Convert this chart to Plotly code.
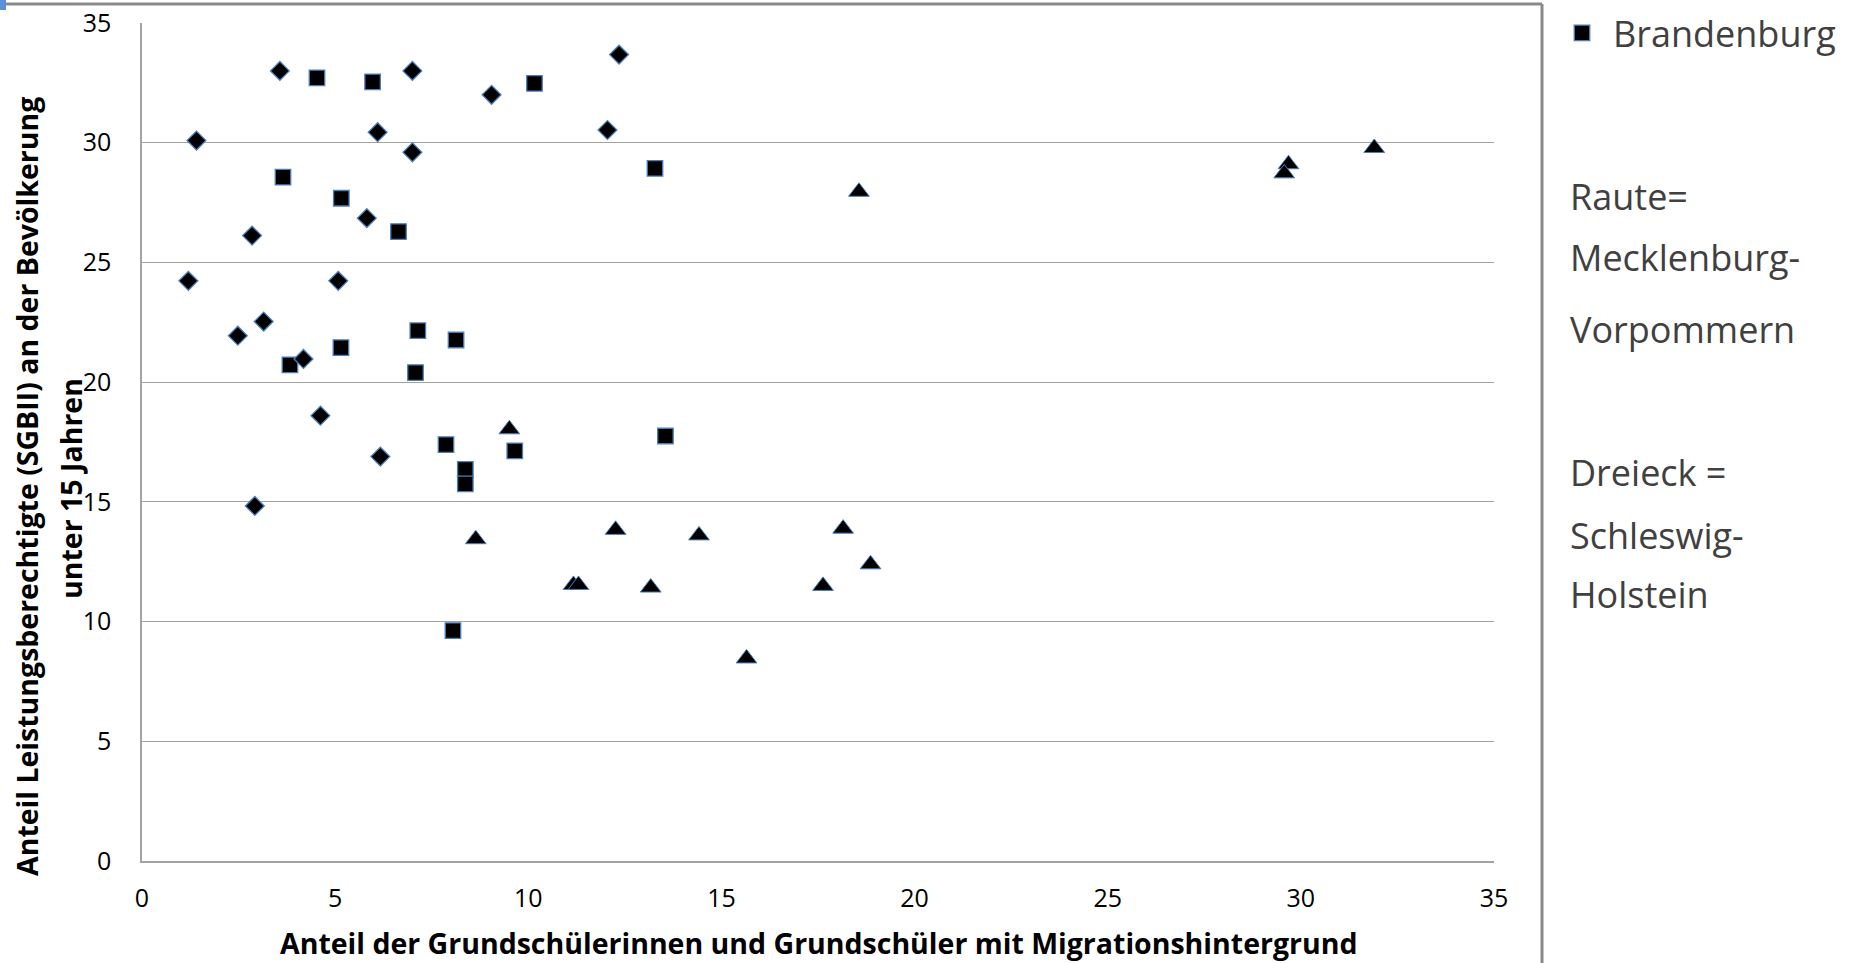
import plotly.graph_objects as go

# --- data ---
mv_x = [3.57, 7.0, 12.35, 9.05, 1.41, 6.10, 12.05, 7.0, 5.82, 2.85, 1.2, 5.08, 3.15, 2.48, 4.18, 4.62, 6.17, 2.92]
mv_y = [33.0, 33.0, 33.68, 32.0, 30.09, 30.44, 30.53, 29.6, 26.85, 26.12, 24.23, 24.23, 22.53, 21.94, 20.97, 18.6, 16.89, 14.83]

bb_x = [4.53, 5.97, 10.16, 13.28, 3.65, 5.16, 6.64, 7.14, 8.13, 5.15, 3.83, 7.08, 7.87, 9.65, 8.37, 8.37, 8.05, 13.55]
bb_y = [32.71, 32.54, 32.48, 28.93, 28.56, 27.68, 26.29, 22.15, 21.76, 21.44, 20.72, 20.4, 17.39, 17.13, 16.36, 15.75, 9.62, 17.75]

sh_x = [9.51, 8.64, 11.17, 11.3, 12.26, 13.17, 14.42, 18.15, 18.86, 17.63, 15.65, 18.56, 29.68, 29.57, 31.9]
sh_y = [18.03, 13.44, 11.53, 11.53, 13.83, 11.42, 13.6, 13.88, 12.39, 11.49, 8.46, 27.95, 29.1, 28.72, 29.78]

x_ticks = [0, 5, 10, 15, 20, 25, 30, 35]
y_ticks = [0, 5, 10, 15, 20, 25, 30, 35]

x_title = "Anteil der Grundschülerinnen und Grundschüler mit Migrationshintergrund"
y_title_1 = "Anteil Leistungsberechtigte (SGBII) an der Bevölkerung"
y_title_2 = "unter 15 Jahren"
legend_name = "Brandenburg"
notes = ["Raute=", "Mecklenburg-", "Vorpommern", "Dreieck =", "Schleswig-", "Holstein"]

# --- layout geometry (pixels) ---
W, H = 1851, 963
L, R, T, B = 142, 1494, 23, 861


def px(xp):
    return (xp - L) / (R - L)


def py(yp):
    return (B - yp) / (B - T)


OUTLINE = "#4a7ebb"
GRID = "#a3a3a3"
FONT = "Open Sans"

fig = go.Figure()
fig.add_trace(go.Scatter(
    x=bb_x, y=bb_y, mode="markers", name=legend_name, showlegend=True,
    marker=dict(symbol="square", size=15.5, color="black", line=dict(color=OUTLINE, width=1.3))))
fig.add_trace(go.Scatter(
    x=mv_x, y=mv_y, mode="markers", name="Mecklenburg-Vorpommern", showlegend=False,
    marker=dict(symbol="diamond", size=14.5, color="black", line=dict(color=OUTLINE, width=1.3))))
fig.add_trace(go.Scatter(
    x=sh_x, y=sh_y, mode="markers", name="Schleswig-Holstein", showlegend=False,
    marker=dict(symbol="triangle-up", size=18, color="black", line=dict(color=OUTLINE, width=1.0))))

fig.update_xaxes(range=[0, 35], tickvals=x_ticks, showgrid=False, zeroline=False,
                 showline=True, linecolor=GRID, linewidth=2, ticks="",
                 tickfont=dict(family=FONT, size=25, color="#000000"),
                 ticklabelstandoff=14)
fig.update_yaxes(range=[0, 35], tickvals=y_ticks, showgrid=True, gridcolor=GRID, gridwidth=1.4,
                 zeroline=False, showline=True, linecolor=GRID, linewidth=1.5, ticks="",
                 tickfont=dict(family=FONT, size=25, color="#000000"),
                 ticklabelstandoff=24)

TSIZE = 28.5
annotations = [
    dict(text="<b>" + x_title + "</b>", x=px(818), y=py(943), xref="paper", yref="paper",
         xanchor="center", yanchor="middle", showarrow=False, borderpad=0,
         font=dict(family=FONT, size=TSIZE, color="#000000")),
    dict(text="<b>" + y_title_1 + "</b>", x=px(27), y=py(487), xref="paper", yref="paper",
         xanchor="center", yanchor="middle", showarrow=False, textangle=-90,
         font=dict(family=FONT, size=TSIZE, color="#000000")),
    dict(text="<b>" + y_title_2 + "</b>", x=px(71), y=py(489), xref="paper", yref="paper",
         xanchor="center", yanchor="middle", showarrow=False, textangle=-90,
         font=dict(family=FONT, size=TSIZE, color="#000000")),
]
note_y = [196, 257, 329, 473, 535, 594]
for txt, yy in zip(notes, note_y):
    annotations.append(dict(text=txt, x=px(1568), y=py(yy), xref="paper", yref="paper",
                            xanchor="left", yanchor="middle", showarrow=False,
                            font=dict(family=FONT, size=36, color="#404040")))

shapes = [
    dict(type="line", xref="paper", yref="paper", x0=px(0), x1=px(1542), y0=py(4), y1=py(4),
         line=dict(color="#8a8a8a", width=3)),
    dict(type="line", xref="paper", yref="paper", x0=px(1542), x1=px(1542), y0=py(4), y1=py(H),
         line=dict(color="#8a8a8a", width=3)),
    dict(type="rect", xref="paper", yref="paper", x0=px(0), x1=px(6), y0=py(0), y1=py(10),
         line=dict(width=0), fillcolor="#5b8fd6"),
]

fig.update_layout(
    width=W, height=H,
    margin=dict(l=L, r=W - R, t=T, b=H - B, autoexpand=False),
    paper_bgcolor="white", plot_bgcolor="white",
    showlegend=True,
    legend=dict(x=px(1551), y=py(33), xanchor="left", yanchor="middle",
                font=dict(family=FONT, size=36, color="#404040"),
                bgcolor="rgba(0,0,0,0)", itemwidth=52),
    annotations=annotations, shapes=shapes,
)

fig.write_html("out.html", config={"displayModeBar": False},
               post_script="document.body.style.margin='0';")
